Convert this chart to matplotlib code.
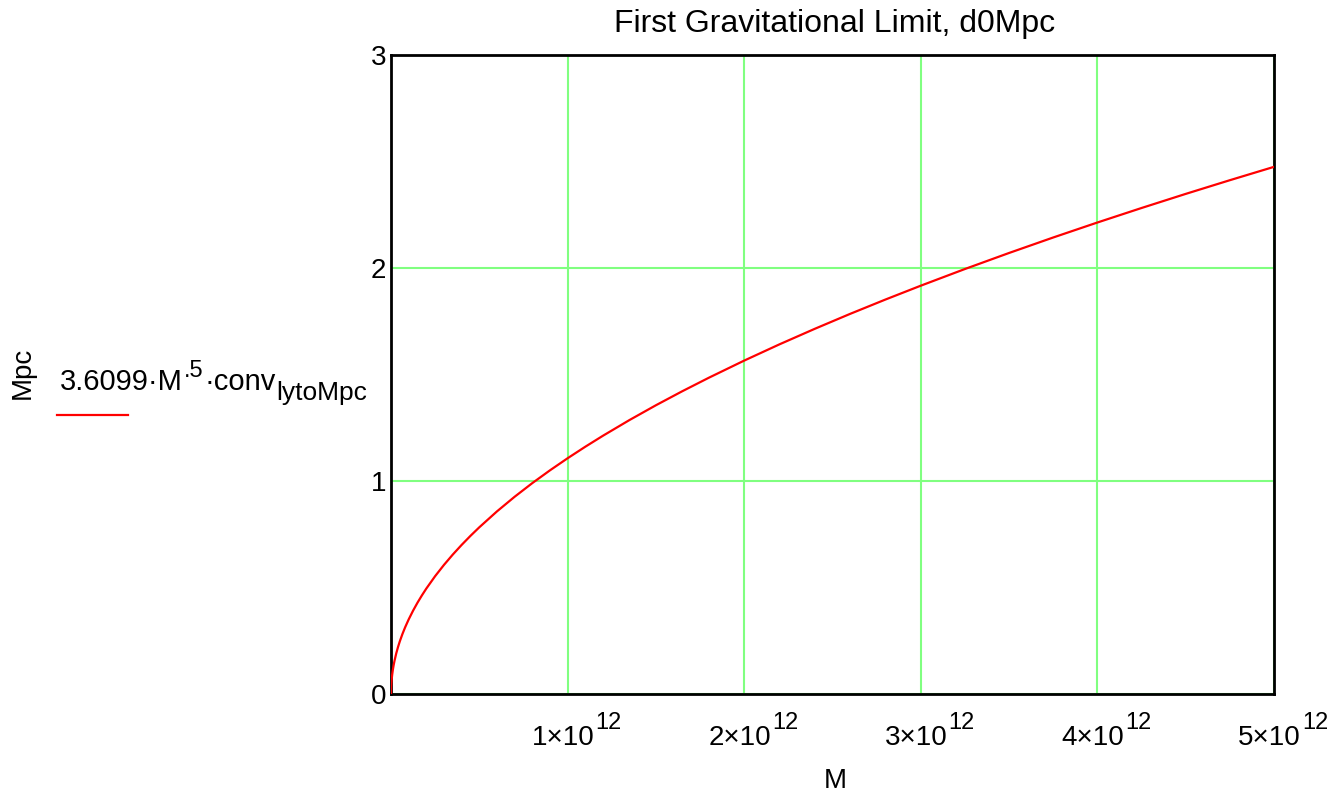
"""First gravitational limit curve."""

import matplotlib
matplotlib.use('Agg')
import matplotlib.pyplot as plt

plt.rcParams['font.family'] = ['Liberation Sans', 'DejaVu Sans']

# data (M in units of 1e12, distance in Mpc)
M = [0, 0.0005, 0.001, 0.002, 0.004, 0.007, 0.01, 0.015, 0.02, 0.03, 0.04,
     0.05, 0.065, 0.08, 0.1, 0.125, 0.15, 0.175, 0.2, 0.25, 0.3, 0.35, 0.4,
     0.45, 0.5, 0.6, 0.7, 0.8, 0.9, 1.0, 1.1, 1.2, 1.35, 1.5, 1.65, 1.8,
     2.0, 2.2, 2.4, 2.6, 2.8, 3.0, 3.25, 3.5, 3.75, 4.0, 4.25, 4.5, 4.75, 5.0]
d0 = [0, 0.0247, 0.0350, 0.0495, 0.0700, 0.0926, 0.1107, 0.1356, 0.1565,
      0.1917, 0.2214, 0.2475, 0.2822, 0.3131, 0.3500, 0.3913, 0.4287,
      0.4630, 0.4950, 0.5534, 0.6062, 0.6548, 0.7000, 0.7425, 0.7826,
      0.8573, 0.9260, 0.9900, 1.0500, 1.1068, 1.1608, 1.2124, 1.2860,
      1.3556, 1.4217, 1.4849, 1.5653, 1.6417, 1.7146, 1.7847, 1.8520,
      1.9170, 1.9953, 2.0706, 2.1433, 2.2136, 2.2817, 2.3479, 2.4122, 2.4749]
xticks = [1, 2, 3, 4, 5]
yticks = [0, 1, 2, 3]

W, H = 1332, 793
fig = plt.figure(figsize=(W / 100, H / 100), dpi=100)
ax = fig.add_axes([391/W, 1 - 694/H, (1274 - 391)/W, (694 - 55)/H])

ax.plot(M, d0, color='#ff0000', lw=1.6, zorder=3)

ax.set_xlim(0, 5)
ax.set_ylim(0, 3)
ax.set_xticks(xticks)
ax.set_xticklabels([''] * len(xticks))
ax.set_yticks(yticks)
ax.set_yticklabels([str(v) for v in yticks], fontsize=20)
ax.tick_params(length=0)
ax.tick_params(axis='y', pad=3.6)
ax.grid(True, color='#80ff80', lw=1.5)
ax.set_axisbelow(True)
for s in ax.spines.values():
    s.set_linewidth(2)
    s.set_color('black')


def chain(first, parts):
    # put text pieces one after another, each on its own baseline (fig px)
    prev = first
    for s, size, base, gap in parts:
        prev = ax.annotate(s, xy=(1, base), xycoords=(prev, 'figure pixels'),
                           xytext=(gap, 0), textcoords='offset pixels',
                           fontsize=size, ha='left', va='baseline',
                           annotation_clip=False)
    return prev


# x tick labels like 1x10^12
for k in xticks:
    t = ax.annotate('%d\u00d710' % k, xy=(k, 48), xycoords=('data', 'figure pixels'),
                    xytext=(-36, 0), textcoords='offset pixels', fontsize=20,
                    ha='left', va='baseline', annotation_clip=False)
    chain(t, [('12', 17, 64, 1)])

fig.text(835/W, 1 - 32/H, 'First Gravitational Limit, d0Mpc', fontsize=23,
         ha='center', va='baseline')
fig.text(835/W, 5/H, 'M', fontsize=20, ha='center', va='baseline')

# y label and legend to the left of the axes
fig.text(23/W, 420/H, 'Mpc', rotation=90, fontsize=20,
         ha='center', va='center')
leg = fig.text(60/W, 403/H, '3.6099\u00b7M', fontsize=21, ha='left', va='baseline')
chain(leg, [('.5', 17, 416, 1), ('\u00b7conv', 21, 403, 1),
            ('lytoMpc', 19, 393, 0)])
fig.add_artist(plt.Line2D([57/W, 128/W], [1 - 415/H, 1 - 415/H],
                          color='#ff0000', lw=1.6))

plt.savefig('out.png', dpi=100)
